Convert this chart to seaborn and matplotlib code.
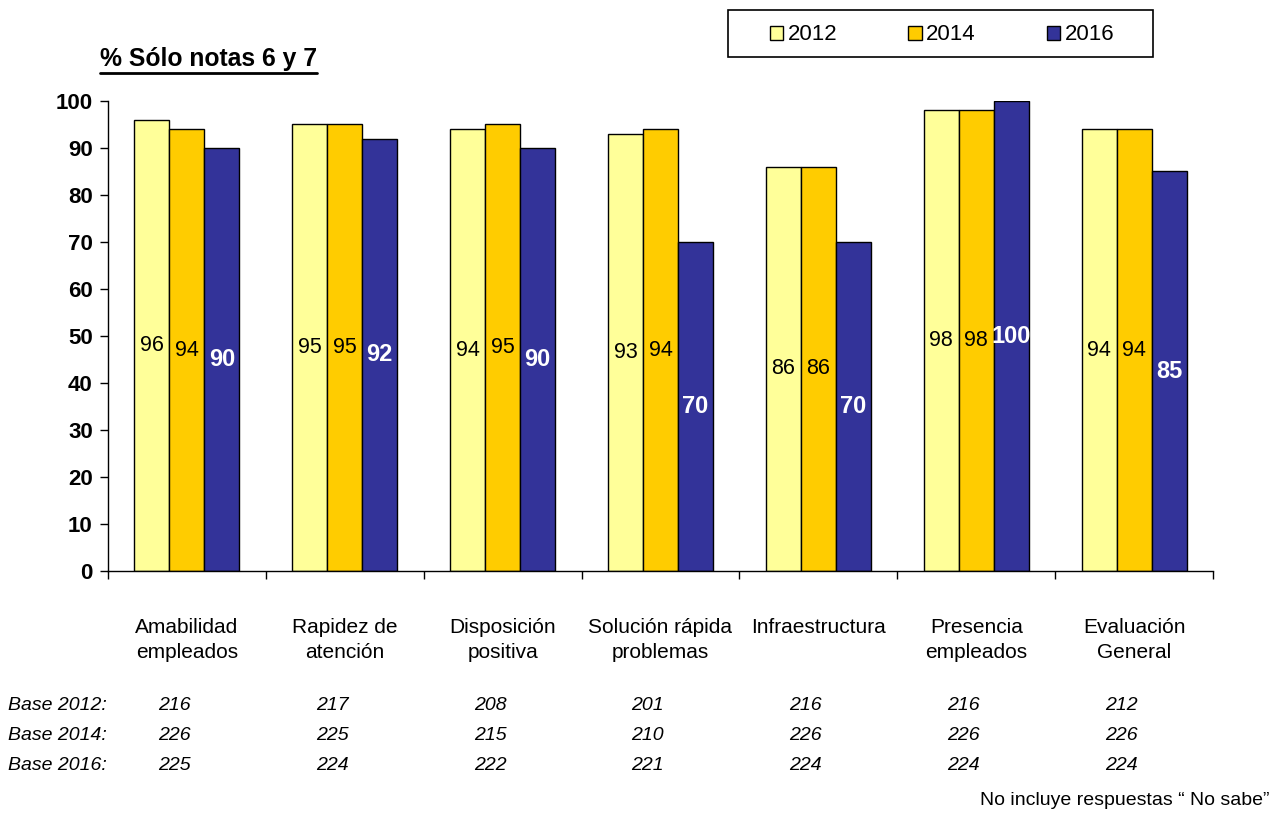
import matplotlib
matplotlib.use("Agg")
import matplotlib.pyplot as plt
from matplotlib import font_manager
from matplotlib.lines import Line2D
from matplotlib.patches import Rectangle, Patch
import seaborn as sns
import pandas as pd
import numpy as np

categories = ["Amabilidad\nempleados", "Rapidez de\natención", "Disposición\npositiva",
              "Solución rápida\nproblemas", "Infraestructura\n ", "Presencia\nempleados",
              "Evaluación\nGeneral"]
years = ["2012", "2014", "2016"]
v2012 = [96, 95, 94, 93, 86, 98, 94]
v2014 = [94, 95, 95, 94, 86, 98, 94]
v2016 = [90, 92, 90, 70, 70, 100, 85]
base2012 = [216, 217, 208, 201, 216, 216, 212]
base2014 = [226, 225, 215, 210, 226, 226, 226]
base2016 = [225, 224, 222, 221, 224, 224, 224]
colors = {"2012": "#FFFF99", "2014": "#FFCC00", "2016": "#333399"}

sns.set_style("white")
names = {f.name for f in font_manager.fontManager.ttflist}
FONT = "Liberation Sans" if "Liberation Sans" in names else "DejaVu Sans"
plt.rcParams["font.family"] = [FONT, "DejaVu Sans"]
plt.rcParams["text.color"] = "black"
plt.rcParams["xtick.color"] = "black"
plt.rcParams["ytick.color"] = "black"
plt.rcParams["axes.labelcolor"] = "black"

rows = []
for y, vals in zip(years, [v2012, v2014, v2016]):
    for c, v in zip(categories, vals):
        rows.append({"cat": c, "year": y, "val": v})
df = pd.DataFrame(rows)

fig = plt.figure(figsize=(12.86, 8.13), dpi=100)
ax = fig.add_axes([108/1286, 1-571/813, (1213-108)/1286, (571-101)/813])
sns.barplot(data=df, x="cat", y="val", hue="year", hue_order=years, order=categories,
            palette=colors, width=0.665, edgecolor="black", linewidth=1,
            saturation=1, ax=ax, legend=False)

ax.set_ylim(0, 100)
ax.set_xlim(-0.5, len(categories) - 0.5)
ax.set_yticks(np.arange(0, 101, 10))
ax.set_xlabel("")
ax.set_ylabel("")
for s in ["top", "right"]:
    ax.spines[s].set_visible(False)
for s in ["left", "bottom"]:
    ax.spines[s].set_color("black")
    ax.spines[s].set_linewidth(1)
ax.tick_params(axis="y", direction="out", length=6, width=1, color="black", pad=5,
               left=True, labelsize=16, labelcolor="black")
for t in ax.get_yticklabels():
    t.set_fontweight("bold")
ax.set_xticks(np.arange(-0.5, len(categories), 1.0), minor=True)
ax.tick_params(axis="x", which="minor", direction="out", length=6, width=1,
               color="black", bottom=True)
ax.tick_params(axis="x", which="major", length=0, pad=34, labelsize=15,
               labelcolor="black")
for t in ax.get_xticklabels():
    t.set_multialignment("center")
    t.set_linespacing(1.4)

for i, cont in enumerate(ax.containers):
    if i < 2:
        ax.bar_label(cont, label_type="center", fontsize=15.5, color="black")
    else:
        ax.bar_label(cont, label_type="center", fontsize=17, color="white",
                     fontweight="bold")

# Base rows
trans = matplotlib.transforms.blended_transform_factory(ax.transData, fig.transFigure)
for ypx, lab, vals in [(705, "Base 2012:", base2012), (735, "Base 2014:", base2014),
                       (765, "Base 2016:", base2016)]:
    yf = 1 - ypx/813
    fig.text(8/1286, yf, lab, ha="left", va="center", fontsize=14, style="italic")
    for i, v in enumerate(vals):
        ax.text(i - 0.08, yf, str(v), transform=trans, ha="center", va="center",
                fontsize=14, style="italic", clip_on=False)

fig.text(1270/1286, 1-800/813, "No incluye respuestas “ No sabe”", ha="right",
         va="center", fontsize=14)

# Title with underline
title = fig.text(100/1286, 1-59/813, "% Sólo notas 6 y 7", ha="left", va="center",
                 fontsize=17.8, fontweight="bold")

# Legend (frameless) + manual box
handles = [Patch(facecolor=colors[y], edgecolor="black", label=y) for y in years]
leg = fig.legend(handles=handles, loc="center", bbox_to_anchor=(942/1286, 1-35/813),
                 ncol=3, frameon=False, fontsize=16, handlelength=0.6, handleheight=0.6,
                 handletextpad=0.2, columnspacing=3.2, borderpad=0.2)
fig.add_artist(Rectangle((728/1286, 1-57/813), (1153-728)/1286, 47/813,
                         transform=fig.transFigure, fill=False, edgecolor="black",
                         linewidth=1.2))

fig.canvas.draw()
bb = title.get_window_extent()
inv = fig.transFigure.inverted()
(x0, y0), (x1, y1) = inv.transform([(bb.x0, bb.y0 - 2), (bb.x1, bb.y0 - 2)])
fig.add_artist(Line2D([x0, x1], [y0, y1], color="black", linewidth=2,
                      transform=fig.transFigure))

fig.savefig("out.png", dpi=100)
